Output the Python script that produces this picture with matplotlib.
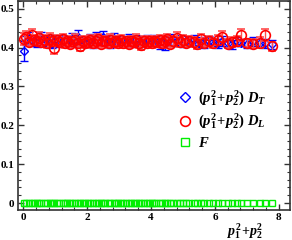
import numpy as np
from matplotlib import pyplot as plt
from matplotlib.ticker import MultipleLocator
from matplotlib.lines import Line2D

plt.rcParams["font.family"] = ["Liberation Serif", "DejaVu Serif"]
plt.rcParams["font.weight"] = "bold"
plt.rcParams["mathtext.fontset"] = "custom"
plt.rcParams["mathtext.rm"] = "Liberation Serif:bold"
plt.rcParams["mathtext.it"] = "Liberation Serif:italic:bold"

# p1^2 + p2^2 values
p2 = [0.02, 0.09, 0.17, 0.27, 0.33, 0.43, 0.50, 0.57, 0.67, 0.73, 0.83, 0.90,
      0.97, 1.07, 1.13, 1.23, 1.30, 1.37, 1.47, 1.53, 1.63, 1.70, 1.77, 1.87,
      1.93, 2.03, 2.10, 2.17, 2.27, 2.33, 2.43, 2.50, 2.57, 2.67, 2.73, 2.83,
      2.90, 2.97, 3.07, 3.13, 3.23, 3.30, 3.37, 3.47, 3.53, 3.63, 3.70, 3.77,
      3.87, 3.93, 4.03, 4.10, 4.17, 4.27, 4.33, 4.43, 4.50, 4.60, 4.70, 4.80,
      4.90, 5.00, 5.10, 5.20, 5.33, 5.43, 5.57, 5.67, 5.80, 5.93, 6.10, 6.23,
      6.40, 6.53, 6.70, 6.83, 7.00, 7.20, 7.40, 7.57, 7.80]

d_t = [0.392, 0.418, 0.425, 0.415, 0.420, 0.412, 0.418, 0.424, 0.413, 0.417,
       0.421, 0.410, 0.416, 0.419, 0.412, 0.420, 0.415, 0.418, 0.411, 0.422,
       0.416, 0.426, 0.414, 0.419, 0.412, 0.417, 0.421, 0.410, 0.424, 0.415,
       0.418, 0.428, 0.414, 0.420, 0.411, 0.423, 0.416, 0.419, 0.413, 0.418,
       0.415, 0.421, 0.412, 0.417, 0.420, 0.414, 0.418, 0.411, 0.419, 0.416,
       0.414, 0.420, 0.418, 0.410, 0.415, 0.408, 0.417, 0.421, 0.413, 0.416,
       0.419, 0.412, 0.418, 0.415, 0.420, 0.411, 0.416, 0.409, 0.418, 0.414,
       0.411, 0.417, 0.412, 0.408, 0.415, 0.413, 0.410, 0.416, 0.412, 0.411,
       0.408]
d_t_err = [0.026, 0.012, 0.014, 0.010, 0.012, 0.011, 0.013, 0.015, 0.010, 0.012,
           0.011, 0.010, 0.012, 0.014, 0.010, 0.013, 0.011, 0.012, 0.010, 0.016,
           0.011, 0.018, 0.010, 0.012, 0.011, 0.013, 0.015, 0.010, 0.016, 0.011,
           0.012, 0.014, 0.010, 0.013, 0.011, 0.015, 0.011, 0.012, 0.010, 0.013,
           0.011, 0.014, 0.010, 0.012, 0.013, 0.011, 0.012, 0.010, 0.013, 0.011,
           0.011, 0.013, 0.012, 0.014, 0.011, 0.013, 0.012, 0.014, 0.010, 0.012,
           0.013, 0.011, 0.012, 0.011, 0.013, 0.010, 0.012, 0.011, 0.012, 0.010,
           0.011, 0.012, 0.010, 0.011, 0.012, 0.010, 0.011, 0.012, 0.010, 0.011,
           0.012]

d_l = [0.422, 0.428, 0.415, 0.432, 0.420, 0.418, 0.425, 0.414, 0.420, 0.411,
       0.423, 0.416, 0.400, 0.419, 0.414, 0.421, 0.412, 0.418, 0.410, 0.416,
       0.420, 0.413, 0.404, 0.418, 0.411, 0.415, 0.419, 0.412, 0.417, 0.421,
       0.410, 0.416, 0.418, 0.412, 0.420, 0.414, 0.417, 0.411, 0.419, 0.413,
       0.416, 0.410, 0.418, 0.415, 0.420, 0.412, 0.407, 0.416, 0.413, 0.418,
       0.411, 0.417, 0.414, 0.419, 0.412, 0.416, 0.422, 0.410, 0.418, 0.425,
       0.414, 0.420, 0.412, 0.417, 0.415, 0.409, 0.421, 0.413, 0.418, 0.411,
       0.419, 0.428, 0.410, 0.414, 0.416, 0.433, 0.412, 0.410, 0.413, 0.433,
       0.403]
d_l_err = [0.016, 0.014, 0.012, 0.015, 0.013, 0.012, 0.014, 0.011, 0.013, 0.012,
           0.014, 0.012, 0.016, 0.013, 0.011, 0.014, 0.012, 0.013, 0.011, 0.012,
           0.014, 0.012, 0.013, 0.012, 0.011, 0.013, 0.014, 0.012, 0.013, 0.014,
           0.011, 0.012, 0.013, 0.012, 0.014, 0.011, 0.013, 0.012, 0.014, 0.011,
           0.012, 0.011, 0.013, 0.012, 0.014, 0.012, 0.012, 0.013, 0.011, 0.013,
           0.012, 0.013, 0.011, 0.014, 0.012, 0.013, 0.014, 0.011, 0.013, 0.015,
           0.012, 0.013, 0.011, 0.012, 0.013, 0.012, 0.014, 0.011, 0.013, 0.012,
           0.013, 0.014, 0.011, 0.012, 0.013, 0.016, 0.011, 0.012, 0.013, 0.016,
           0.012]

f_vals = [0.0] * len(p2)

label_t = r"$(p_1^2\!+\!p_2^2)\ D_T$"
label_l = r"$(p_1^2\!+\!p_2^2)\ D_L$"
label_f = r"$F$"

fig = plt.figure(figsize=(2.92, 2.40), dpi=100)
ax = fig.add_axes([0.06, 0.125, 0.933, 0.871])

ax.errorbar(p2, d_t, yerr=d_t_err, fmt="D", ms=4.5, mfc="none", mec="blue",
            mew=1.0, ecolor="blue", elinewidth=1.0, capsize=3, zorder=2)
ax.errorbar(p2, d_l, yerr=d_l_err, fmt="o", ms=7, mfc="none", mec="red",
            mew=1.2, ecolor=(1, 0.3, 0.3), elinewidth=1.0, capsize=3, zorder=3)
ax.plot(p2, f_vals, "s", ms=5, mfc="none", mec="#00ee00", mew=1.0, zorder=4)

ax.set_xlim(-0.18, 8.35)
ax.set_ylim(-0.018, 0.52)
ax.xaxis.set_major_locator(MultipleLocator(2))
ax.xaxis.set_minor_locator(MultipleLocator(0.4))
ax.yaxis.set_minor_locator(MultipleLocator(0.02))
ax.set_yticks([0, 0.1, 0.2, 0.3, 0.4, 0.5])
ax.set_yticklabels(["0", "0.1", "0.2", "0.3", "0.4", "0.5"])
ax.tick_params(which="both", direction="in", top=True, right=True,
               labelsize=8, color="#333333")
ax.tick_params(which="major", length=4, width=1.0, pad=2.5)
ax.tick_params(which="minor", length=2.5, width=0.8)
for s in ax.spines.values():
    s.set_linewidth(1.2)
    s.set_color("#333333")

handles = [
    Line2D([], [], ls="none", marker="D", ms=5, mfc="none", mec="blue", mew=1.0),
    Line2D([], [], ls="none", marker="o", ms=7, mfc="none", mec="red", mew=1.2),
    Line2D([], [], ls="none", marker="s", ms=6, mfc="none", mec="#00ee00", mew=1.0),
]
ax.legend(handles, [label_t, label_l, label_f],
          loc="center left", bbox_to_anchor=(0.54, 0.435), frameon=False,
          fontsize=10.5, handletextpad=0.4, labelspacing=0.3,
          handlelength=1.0)

ax.annotate(r"$p_1^2\!+\!p_2^2$", xy=(0.835, -0.1), xycoords="axes fraction",
            ha="center", va="center", fontsize=10)

fig.savefig("out.png", dpi=100)
